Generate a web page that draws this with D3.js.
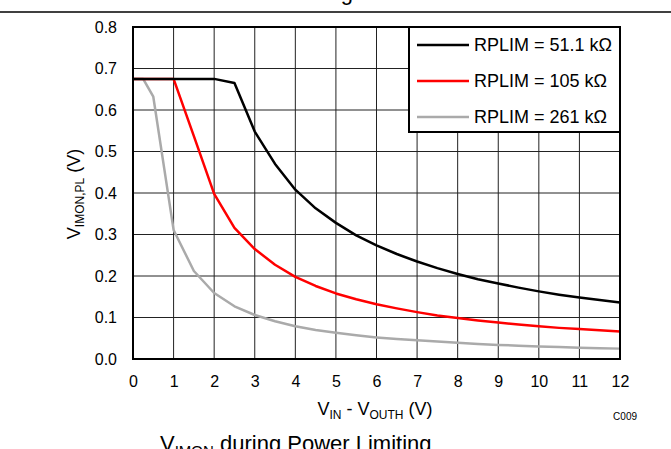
<!DOCTYPE html>
<html>
<head>
<meta charset="utf-8">
<script src="https://cdn.jsdelivr.net/npm/d3@7"></script>
<style>
  body { margin: 0; background: #fff; }
  text { font-family: "Liberation Sans", Arial, sans-serif; fill: #000; }
</style>
</head>
<body>
<script>
const w = 671;
const h = 449;
const margin = { top: 27, right: 51, bottom: 90, left: 133 };

// data
const xVals51 = [0, 0.5, 1, 1.5, 2, 2.5, 3, 3.5, 4, 4.5, 5, 5.5, 6, 6.5, 7, 7.5, 8, 8.5, 9, 9.5, 10, 10.5, 11, 11.5, 12];
const yVals51 = [0.675, 0.675, 0.675, 0.675, 0.675, 0.665, 0.548, 0.47, 0.408, 0.363, 0.328, 0.298, 0.274, 0.253, 0.235, 0.219, 0.205, 0.192, 0.182, 0.172, 0.163, 0.155, 0.148, 0.142, 0.136];
const xVals105 = [0, 0.5, 1, 1.5, 2, 2.5, 3, 3.5, 4, 4.5, 5, 5.5, 6, 6.5, 7, 7.5, 8, 8.5, 9, 9.5, 10, 10.5, 11, 11.5, 12];
const yVals105 = [0.675, 0.675, 0.675, 0.537, 0.398, 0.316, 0.265, 0.227, 0.198, 0.176, 0.158, 0.144, 0.132, 0.122, 0.113, 0.105, 0.099, 0.093, 0.088, 0.083, 0.079, 0.075, 0.072, 0.069, 0.066];
const xVals261 = [0, 0.25, 0.5, 1, 1.5, 2, 2.5, 3, 3.5, 4, 4.5, 5, 5.5, 6, 6.5, 7, 7.5, 8, 8.5, 9, 9.5, 10, 10.5, 11, 11.5, 12];
const yVals261 = [0.675, 0.675, 0.632, 0.311, 0.212, 0.159, 0.127, 0.106, 0.091, 0.079, 0.07, 0.063, 0.057, 0.052, 0.048, 0.045, 0.042, 0.039, 0.036, 0.034, 0.032, 0.03, 0.029, 0.027, 0.026, 0.025];
const seriesNames = ["RPLIM = 51.1 kΩ", "RPLIM = 105 kΩ", "RPLIM = 261 kΩ"];
const seriesColors = ["#000000", "#ff0000", "#aaaaaa"];
const xTicks = [0, 1, 2, 3, 4, 5, 6, 7, 8, 9, 10, 11, 12];
const yTicks = [0, 0.1, 0.2, 0.3, 0.4, 0.5, 0.6, 0.7, 0.8];

const series = [
  xVals51.map((x, i) => [x, yVals51[i]]),
  xVals105.map((x, i) => [x, yVals105[i]]),
  xVals261.map((x, i) => [x, yVals261[i]])
];

const svg = d3
  .select("body")
  .append("svg")
  .attr("width", w)
  .attr("height", h);

const x = d3.scaleLinear().domain([0, 12]).range([margin.left, w - margin.right]);
const y = d3.scaleLinear().domain([0, 0.8]).range([h - margin.bottom, margin.top]);

// cut-off caption of the figure above and its rule
svg.append("text")
  .attr("x", 353)
  .attr("y", 0)
  .attr("text-anchor", "end")
  .style("font-size", "22px")
  .text("Power Limiting");
svg.append("line")
  .attr("x1", 0).attr("x2", w)
  .attr("y1", 12).attr("y2", 12)
  .attr("stroke", "#000").attr("stroke-width", 1.5);

// grid
svg.append("g")
  .selectAll("line")
  .data(xTicks)
  .enter()
  .append("line")
  .attr("x1", (d) => x(d)).attr("x2", (d) => x(d))
  .attr("y1", y(0)).attr("y2", y(0.8))
  .attr("stroke", "#222").attr("stroke-width", 1);
svg.append("g")
  .selectAll("line")
  .data(yTicks)
  .enter()
  .append("line")
  .attr("x1", x(0)).attr("x2", x(12))
  .attr("y1", (d) => y(d)).attr("y2", (d) => y(d))
  .attr("stroke", "#222").attr("stroke-width", 1);

// curves
const line = d3.line().x((d) => x(d[0])).y((d) => y(d[1]));
[2, 1, 0].forEach((i) => {
  svg.append("path")
    .datum(series[i])
    .attr("fill", "none")
    .attr("stroke", seriesColors[i])
    .attr("stroke-width", 2.5)
    .attr("stroke-linejoin", "round")
    .attr("d", line);
});

// plot border
svg.append("rect")
  .attr("x", x(0)).attr("y", y(0.8))
  .attr("width", x(12) - x(0)).attr("height", y(0) - y(0.8))
  .attr("fill", "none").attr("stroke", "#000").attr("stroke-width", 2);

// tick labels
const xAxis = svg.append("g")
  .attr("transform", `translate(0,${y(0)})`)
  .call(d3.axisBottom(x).tickValues(xTicks).tickSize(0).tickPadding(17).tickFormat(d3.format("d")));
const yAxis = svg.append("g")
  .attr("transform", `translate(${x(0)},0)`)
  .call(d3.axisLeft(y).tickValues(yTicks).tickSize(0).tickPadding(16).tickFormat(d3.format(".1f")));
[xAxis, yAxis].forEach((a) => {
  a.select(".domain").remove();
  a.selectAll("text")
    .style("font-size", "16px")
    .style("font-family", '"Liberation Sans", Arial, sans-serif')
    .attr("fill", "#000");
});

// legend
const legend = svg.append("g");
legend.append("rect")
  .attr("x", 409).attr("y", y(0.8))
  .attr("width", x(12) - 409).attr("height", 105)
  .attr("fill", "#fff").attr("stroke", "#000").attr("stroke-width", 2);
const item = legend.selectAll("g.item")
  .data(seriesNames)
  .enter()
  .append("g")
  .attr("class", "item")
  .attr("transform", (d, i) => `translate(0,${45 + i * 36})`);
item.append("line")
  .attr("x1", 417).attr("x2", 469)
  .attr("stroke", (d, i) => seriesColors[i])
  .attr("stroke-width", 2.5);
item.append("text")
  .attr("x", 474)
  .attr("y", 6)
  .style("font-size", "18px")
  .text((d) => d);

// axis titles
const xt = svg.append("text")
  .attr("x", 375)
  .attr("y", 415)
  .attr("text-anchor", "middle")
  .style("font-size", "18px");
xt.append("tspan").text("V");
xt.append("tspan").attr("dy", 4).style("font-size", "12px").text("IN");
xt.append("tspan").attr("dy", -4).text(" - V");
xt.append("tspan").attr("dy", 4).style("font-size", "12px").text("OUTH");
xt.append("tspan").attr("dy", -4).text(" (V)");

const yt = svg.append("text")
  .attr("transform", "translate(80,194) rotate(-90)")
  .attr("text-anchor", "middle")
  .style("font-size", "18px");
yt.append("tspan").text("V");
yt.append("tspan").attr("dy", 4).style("font-size", "12px").text("IMON,PL");
yt.append("tspan").attr("dy", -4).text(" (V)");

svg.append("text")
  .attr("x", 637)
  .attr("y", 420)
  .attr("text-anchor", "end")
  .style("font-size", "10px")
  .text("C009");

// caption
const cap = svg.append("text")
  .attr("x", 160)
  .attr("y", 451)
  .style("font-size", "22px");
cap.append("tspan").text("V");
cap.append("tspan").attr("dy", 5).style("font-size", "15px").text("IMON");
cap.append("tspan").attr("dy", -5).text(" during Power Limiting");
</script>
</body>
</html>
